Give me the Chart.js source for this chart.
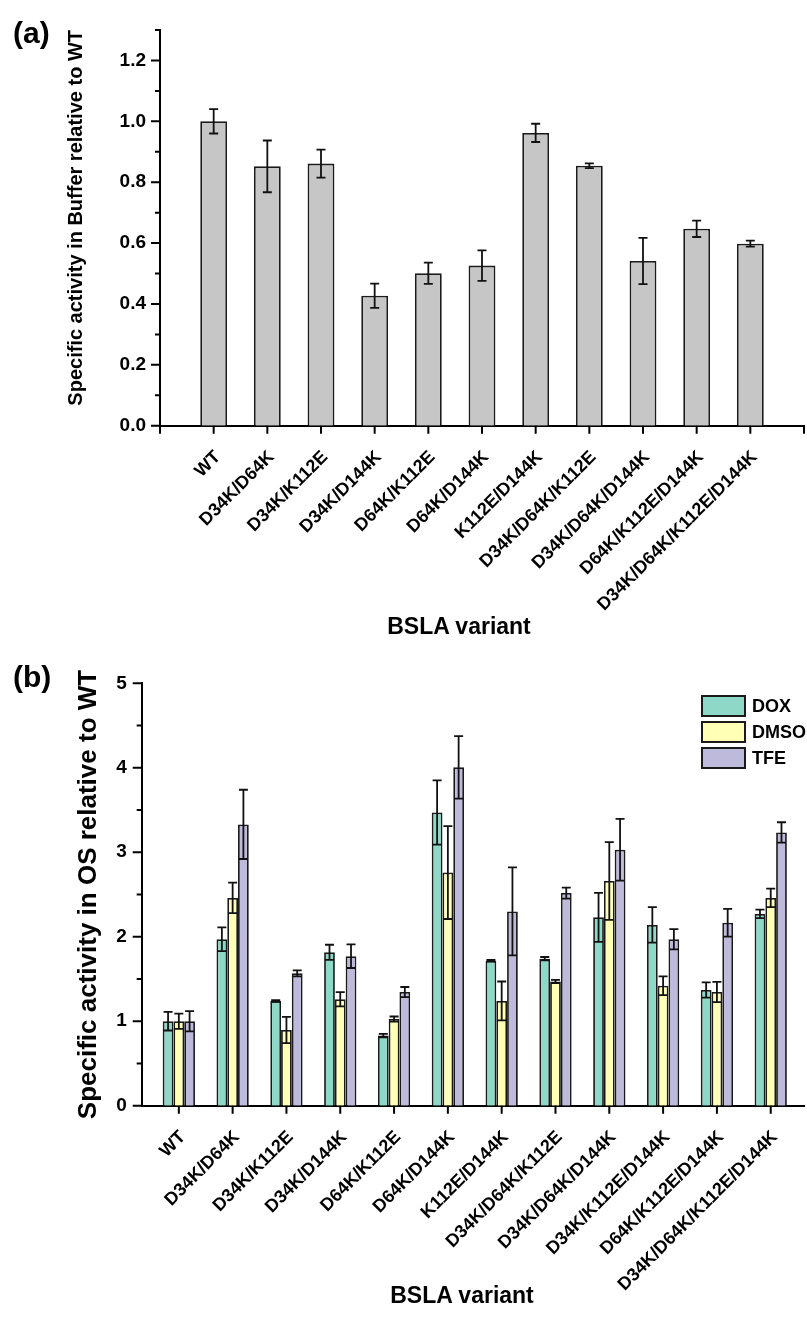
<!DOCTYPE html>
<html>
<head>
<meta charset="utf-8">
<script src="https://cdn.jsdelivr.net/npm/chart.js@4.4.0/dist/chart.umd.min.js"></script>
<style>
  body { margin: 0; background: #fff; font-family: "Liberation Sans", Arial, sans-serif; }
  #page { position: relative; width: 807px; height: 1318px; overflow: hidden; }
  canvas { position: absolute; left: 0; }
  .panel { position: absolute; left: 13px; font-weight: bold; font-size: 30px; line-height: 30px; }
  .xtitle { position: absolute; width: 300px; text-align: center; font-weight: bold; font-size: 23px; line-height: 23px; }
  #legendB { position: absolute; left: 701px; top: 695px; }
  .legend-row { display: flex; align-items: center; height: 22px; margin-bottom: 4px; font-weight: bold; font-size: 18px; }
  .swatch { width: 45px; height: 22px; box-sizing: border-box; border: 2px solid #1a1a1a; margin-right: 6px; }
</style>
</head>
<body>
<div id="page">
  <canvas id="chartA" width="807" height="650" style="top:0"></canvas>
  <canvas id="chartB" width="807" height="668" style="top:650px"></canvas>
  <div class="panel" style="top:18px">(a)</div>
  <div class="panel" style="top:662px">(b)</div>
  <div class="xtitle" style="left:309px; top:615px">BSLA variant</div>
  <div class="xtitle" style="left:312px; top:1284px">BSLA variant</div>
  <div id="legendB"></div>
</div>
<script>
// panel (a): activity in buffer
const variantsA = ['WT', 'D34K/D64K', 'D34K/K112E', 'D34K/D144K', 'D64K/K112E', 'D64K/D144K',
  'K112E/D144K', 'D34K/D64K/K112E', 'D34K/D64K/D144K', 'D64K/K112E/D144K', 'D34K/D64K/K112E/D144K'];
const bufferActivity = [1.0, 0.852, 0.861, 0.427, 0.501, 0.526, 0.962, 0.854, 0.541, 0.647, 0.598];
const bufferErr = [0.04, 0.085, 0.046, 0.04, 0.035, 0.05, 0.03, 0.008, 0.076, 0.027, 0.01];
const bufferTicks = [0, 0.2, 0.4, 0.6, 0.8, 1.0, 1.2];

// panel (b): activity in organic solvents
const variantsB = ['WT', 'D34K/D64K', 'D34K/K112E', 'D34K/D144K', 'D64K/K112E', 'D64K/D144K',
  'K112E/D144K', 'D34K/D64K/K112E', 'D34K/D64K/D144K', 'D34K/K112E/D144K', 'D64K/K112E/D144K',
  'D34K/D64K/K112E/D144K'];
const doxActivity = [1.0, 1.97, 1.24, 1.815, 0.83, 3.47, 1.716, 1.74, 2.23, 2.14, 1.37, 2.27];
const doxErr = [0.11, 0.14, 0.01, 0.09, 0.02, 0.38, 0.01, 0.02, 0.29, 0.21, 0.09, 0.05];
const dmsoActivity = [1.0, 2.46, 0.896, 1.26, 1.026, 2.76, 1.24, 1.47, 2.66, 1.42, 1.345, 2.46];
const dmsoErr = [0.09, 0.18, 0.155, 0.085, 0.03, 0.55, 0.23, 0.02, 0.46, 0.11, 0.12, 0.11];
const tfeActivity = [1.0, 3.33, 1.567, 1.77, 1.345, 4.005, 2.30, 2.517, 3.03, 1.97, 2.166, 3.235];
const tfeErr = [0.12, 0.41, 0.035, 0.14, 0.06, 0.37, 0.52, 0.065, 0.365, 0.12, 0.165, 0.12];
const osTicks = [0, 1, 2, 3, 4, 5];

Chart.defaults.font.family = '"Liberation Sans", Arial, sans-serif';
Chart.defaults.color = '#000';

const toPoints = vals => vals.map((v, i) => ({ x: i, y: v }));

// error bars drawn over the bars, whiskers from value-err to value+err
const errorBars = {
  id: 'errorBars',
  afterDatasetsDraw(chart) {
    const ctx = chart.ctx;
    const yScale = chart.scales.y;
    ctx.save();
    ctx.strokeStyle = '#111';
    ctx.lineWidth = 1.8;
    chart.data.datasets.forEach((ds, i) => {
      const meta = chart.getDatasetMeta(i);
      meta.data.forEach((bar, j) => {
        const v = ds.data[j].y;
        const e = ds.errors[j];
        const top = yScale.getPixelForValue(v + e);
        const bot = yScale.getPixelForValue(v - e);
        ctx.beginPath();
        ctx.moveTo(bar.x, top); ctx.lineTo(bar.x, bot);
        ctx.moveTo(bar.x - 4.5, top); ctx.lineTo(bar.x + 4.5, top);
        ctx.moveTo(bar.x - 4.5, bot); ctx.lineTo(bar.x + 4.5, bot);
        ctx.stroke();
      });
    });
    ctx.restore();
  }
};

// outward major/minor tick marks like the original plot
const axisTicks = {
  id: 'axisTicks',
  afterDraw(chart, args, opts) {
    const { ctx, chartArea, scales: { x, y } } = chart;
    ctx.save();
    ctx.strokeStyle = '#000';
    ctx.lineWidth = 2;
    ctx.beginPath();
    const steps = Math.round(y.max / opts.yMinor);
    for (let k = 0; k <= steps; k++) {
      const py = y.getPixelForValue(k * opts.yMinor);
      const len = k % 2 === 0 ? 9 : 5;
      ctx.moveTo(chartArea.left - len, py);
      ctx.lineTo(chartArea.left, py);
    }
    const xs = x.ticks.map(t => t.value);
    if (opts.xEnds) xs.push(x.min, x.max);
    xs.forEach(v => {
      const px = x.getPixelForValue(v);
      ctx.moveTo(px, chartArea.bottom);
      ctx.lineTo(px, chartArea.bottom + 8);
    });
    ctx.stroke();
    ctx.restore();
  }
};

function xScale(labels, min, max, height) {
  return {
    type: 'linear', min: min, max: max, offset: false,
    grid: { display: false, drawTicks: false },
    border: { color: '#000', width: 2 },
    afterBuildTicks: s => { s.ticks = labels.map((_, i) => ({ value: i })); },
    afterFit: s => { s.height = height; },
    ticks: {
      autoSkip: false, maxRotation: 45, minRotation: 45, padding: 21, labelOffset: 4,
      font: { size: 18, weight: 'bold' },
      callback: v => labels[v]
    }
  };
}

const chartA = new Chart(document.getElementById('chartA'), {
  type: 'bar',
  data: {
    datasets: [{
      label: 'Buffer',
      data: toPoints(bufferActivity),
      errors: bufferErr,
      backgroundColor: '#c6c6c6',
      borderColor: '#1a1a1a',
      borderWidth: 1.8,
      barPercentage: 1,
      categoryPercentage: 0.5
    }]
  },
  options: {
    responsive: false,
    animation: false,
    layout: { padding: { top: 30, right: 3, left: 0, bottom: 0 } },
    plugins: { legend: { display: false }, tooltip: { enabled: false }, axisTicks: { yMinor: 0.1, xEnds: true } },
    scales: {
      x: xScale(variantsA, -1, 11, 650 - 425.7),
      y: {
        min: 0, max: 1.3,
        grid: { display: false, drawTicks: false },
        border: { color: '#000', width: 2 },
        afterBuildTicks: s => { s.ticks = bufferTicks.map(v => ({ value: v })); },
        afterFit: s => { s.width = 160; },
        ticks: { padding: 14, font: { size: 19, weight: 'bold' }, callback: v => v.toFixed(1) },
        title: {
          display: true, text: 'Specific activity in Buffer relative to WT', align: 'end',
          font: { size: 20, weight: 'bold' }, padding: { top: 64, bottom: 0 }
        }
      }
    }
  },
  plugins: [errorBars, axisTicks]
});

const chartB = new Chart(document.getElementById('chartB'), {
  type: 'bar',
  data: {
    datasets: [
      { label: 'DOX', data: toPoints(doxActivity), errors: doxErr, backgroundColor: '#8dd8c6' },
      { label: 'DMSO', data: toPoints(dmsoActivity), errors: dmsoErr, backgroundColor: '#ffffb5' },
      { label: 'TFE', data: toPoints(tfeActivity), errors: tfeErr, backgroundColor: '#bebadb' }
    ].map(ds => Object.assign(ds, { borderColor: '#1a1a1a', borderWidth: 1.8, barPercentage: 1, categoryPercentage: 0.6 }))
  },
  options: {
    responsive: false,
    animation: false,
    layout: { padding: { top: 33.3, right: 0, left: 0, bottom: 0 } },
    plugins: { legend: { display: false }, tooltip: { enabled: false }, axisTicks: { yMinor: 0.5, xEnds: false } },
    scales: {
      x: xScale(variantsB, -0.69, 11.62, 668 - 455.7),
      y: {
        min: 0, max: 5,
        grid: { display: false, drawTicks: false },
        border: { color: '#000', width: 2 },
        afterBuildTicks: s => { s.ticks = osTicks.map(v => ({ value: v })); },
        afterFit: s => { s.width = 141.7; },
        ticks: { padding: 15, font: { size: 19, weight: 'bold' } },
        title: {
          display: true, text: 'Specific activity in OS relative to WT',
          font: { size: 26, weight: 'bold' }, padding: { top: 73, bottom: 0 }
        }
      }
    }
  },
  plugins: [errorBars, axisTicks]
});

// legend for panel (b), built from the chart's datasets
const legendBox = document.getElementById('legendB');
chartB.data.datasets.forEach(ds => {
  const row = document.createElement('div');
  row.className = 'legend-row';
  const sw = document.createElement('span');
  sw.className = 'swatch';
  sw.style.background = ds.backgroundColor;
  const lbl = document.createElement('span');
  lbl.textContent = ds.label;
  row.append(sw, lbl);
  legendBox.appendChild(row);
});
</script>
</body>
</html>
